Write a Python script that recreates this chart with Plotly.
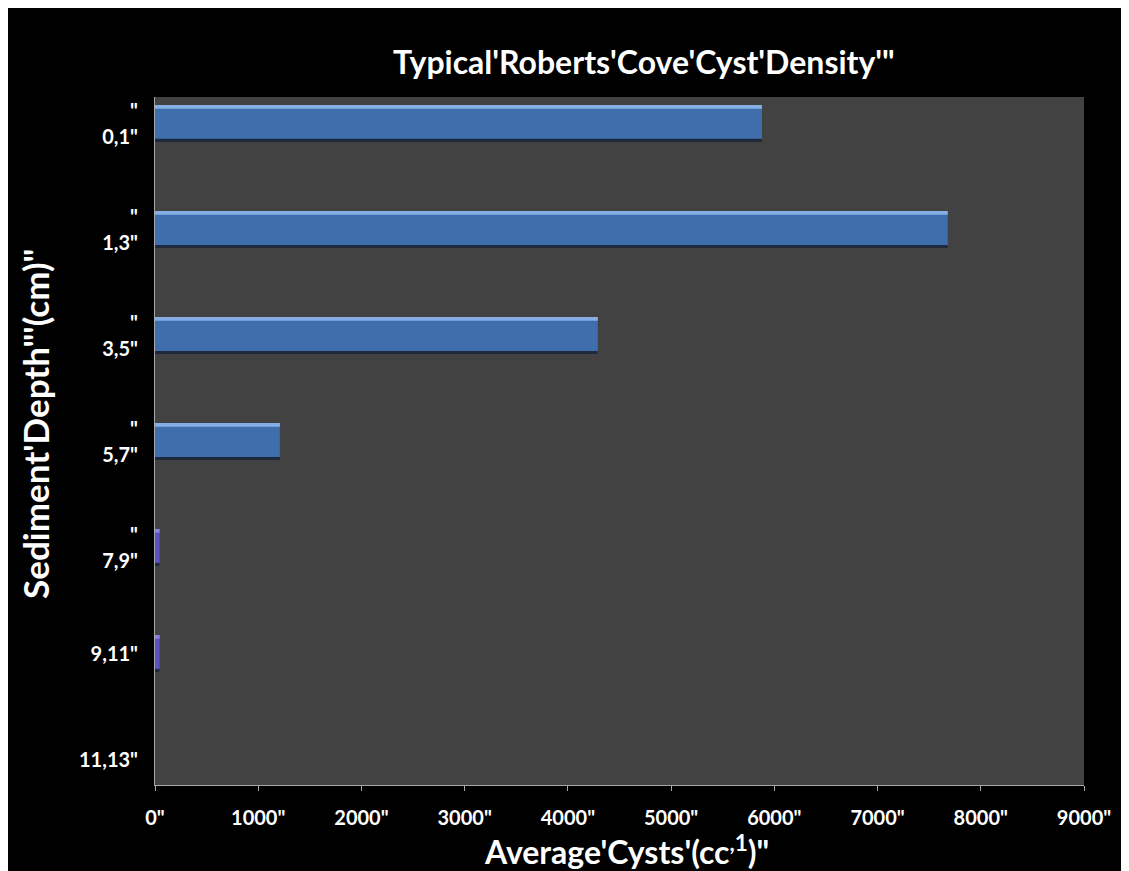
import plotly.graph_objects as go

# ---- data ----
depth_labels = ['"<br>0,1"', '"<br>1,3"', '"<br>3,5"', '"<br>5,7"', '"<br>7,9"', '9,11"', '11,13"']
cyst_density = [5880, 7680, 4290, 1210, 45, 45, 0]
x_tick_values = [0, 1000, 2000, 3000, 4000, 5000, 6000, 7000, 8000, 9000]
x_tick_labels = ['0"', '1000"', '2000"', '3000"', '4000"', '5000"', '6000"', '7000"', '8000"', '9000"']

# ---- styles ----
bar_colors = ['#3f6eac', '#3f6eac', '#3f6eac', '#3f6eac', '#5b50c4', '#5b50c4', '#3f6eac']
highlight_colors = ['#86aee6', '#86aee6', '#86aee6', '#86aee6', '#8a80e8', '#8a80e8', '#86aee6']
FONT = "Lato"
positions = list(range(len(depth_labels)))

fig = go.Figure()
fig.add_trace(go.Bar(
    x=cyst_density, y=positions, orientation="h",
    marker=dict(color=bar_colors, line=dict(width=0)),
    width=0.35, hoverinfo="x", showlegend=False,
))
# lighter top edge
fig.add_trace(go.Bar(
    x=cyst_density, y=positions, orientation="h",
    marker=dict(color=highlight_colors, line=dict(width=0)),
    width=0.035, offset=-0.175, hoverinfo="skip", showlegend=False,
))
# dark bottom edge
fig.add_trace(go.Bar(
    x=cyst_density, y=positions, orientation="h",
    marker=dict(color="#1e2a3c", line=dict(width=0)),
    width=0.03, offset=0.145, hoverinfo="skip", showlegend=False,
))

fig.update_layout(
    width=1129, height=871,
    margin=dict(l=147, r=53, t=89, b=94),
    paper_bgcolor="black",
    plot_bgcolor="#424242",
    barmode="overlay",
    font=dict(family=FONT, color="white"),
    annotations=[
        dict(text="Typical'Roberts'Cove'Cyst'Density'\"", xref="paper", yref="paper",
             x=0.526, y=1.051, showarrow=False, xanchor="center", yanchor="middle",
             font=dict(family=FONT, size=32, color="white", weight="bold")),
        dict(text="Average'Cysts'(cc<sup>,1</sup>)\"", xref="paper", yref="paper",
             x=0.507, y=-0.095, showarrow=False, xanchor="center", yanchor="middle",
             font=dict(family=FONT, size=32, color="white", weight="bold")),
        dict(text="Sediment'Depth\"'(cm)\"", xref="paper", yref="paper",
             x=-0.129, y=0.525, showarrow=False, textangle=-90, xanchor="center", yanchor="middle",
             font=dict(family=FONT, size=35, color="white", weight="bold")),
    ],
)

fig.update_xaxes(
    range=[0, 9000], tickvals=x_tick_values, ticktext=x_tick_labels,
    showgrid=False, zeroline=False,
    showline=True, linecolor="#a8a8a8", linewidth=1,
    ticks="outside", ticklen=5, tickcolor="#a8a8a8",
    ticklabelstandoff=10,
    tickfont=dict(family=FONT, size=20, color="white", weight="bold"),
)
fig.update_yaxes(
    range=[6.24, -0.25], tickvals=positions, ticktext=depth_labels,
    showgrid=False, zeroline=False,
    showline=True, linecolor="#a8a8a8", linewidth=1,
    ticks="", ticklabelstandoff=12,
    tickfont=dict(family=FONT, size=20, color="white", weight="bold"),
)

fig.write_html("out.html")
